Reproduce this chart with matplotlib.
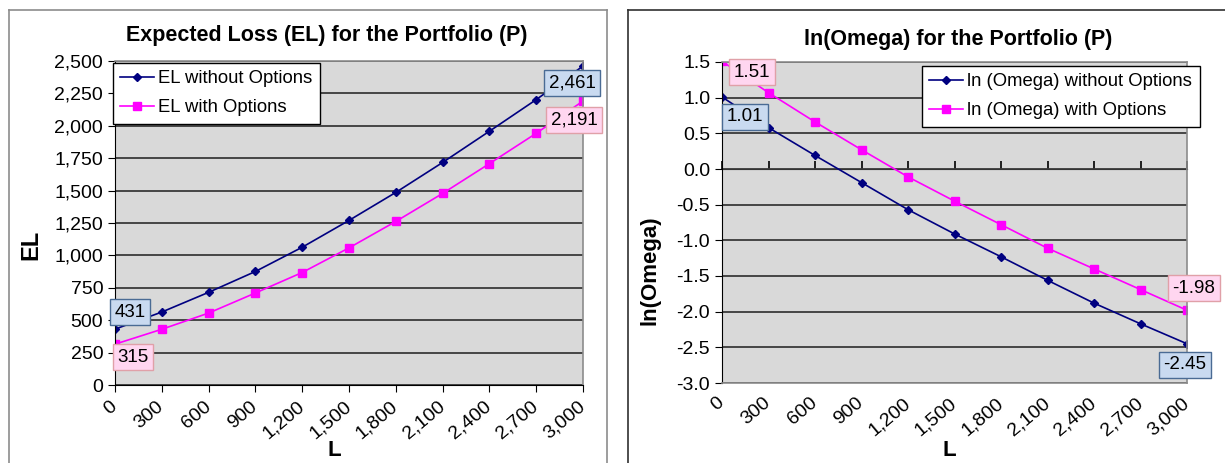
import matplotlib
matplotlib.use("Agg")
import matplotlib.pyplot as plt
from matplotlib.lines import Line2D
from matplotlib.ticker import FuncFormatter, MultipleLocator

plt.rcParams['font.family'] = ['Liberation Sans', 'DejaVu Sans']
plt.rcParams['axes.unicode_minus'] = False

# loss threshold L
L = [0, 300, 600, 900, 1200, 1500, 1800, 2100, 2400, 2700, 3000]
x_ticks = [0, 300, 600, 900, 1200, 1500, 1800, 2100, 2400, 2700, 3000]

# expected loss
el_without = [431, 563, 715, 876, 1063, 1270, 1486, 1717, 1958, 2202, 2461]
el_with = [315, 430, 555, 710, 868, 1058, 1262, 1478, 1708, 1942, 2191]

# ln(Omega)
om_without = [1.01, 0.58, 0.19, -0.19, -0.57, -0.91, -1.23, -1.56, -1.88, -2.17, -2.45]
om_with = [1.51, 1.07, 0.66, 0.27, -0.11, -0.45, -0.78, -1.11, -1.40, -1.69, -1.98]

NAVY = '#000080'
MAGENTA = '#ff00ff'
BG = '#d9d9d9'
GRID = '#3a3a3a'
BLUE_BOX = dict(boxstyle='square,pad=0.25', fc='#c9daf0', ec='#4a6b94', lw=1)
PINK_BOX = dict(boxstyle='square,pad=0.25', fc='#ffd6f0', ec='#e0a0a8', lw=1)
TICK_FS = 14
LABEL_FS = 13.5
LEGEND_FS = 13.3

W, H = 1225, 463
fig = plt.figure(figsize=(W / 100, H / 100), dpi=100)


def px(x, y):
    return x / W, 1 - y / H


def style_axes(ax):
    ax.set_facecolor(BG)
    ax.grid(axis='y', color=GRID, lw=1.3)
    ax.set_axisbelow(True)
    for s in ('top', 'right'):
        ax.spines[s].set_color('#8c8c8c')
        ax.spines[s].set_linewidth(1.2)
    ax.spines['left'].set_color('black')
    ax.tick_params(axis='both', labelsize=TICK_FS, direction='out', length=5, color='black')
    ax.set_xticks(x_ticks)
    ax.set_xlim(0, 3000)
    ax.xaxis.set_major_formatter(FuncFormatter(lambda v, p: f'{int(v):,}'))
    for lab in ax.get_xticklabels():
        lab.set_rotation(40)
        lab.set_ha('right')
        lab.set_va('center')
        lab.set_rotation_mode('anchor')


def frame(x0, x1, y0, color):
    kw = dict(transform=fig.transFigure, color=color, lw=1.2)
    fig.add_artist(Line2D([x0 / W, x0 / W], [0, 1 - y0 / H], **kw))
    fig.add_artist(Line2D([x0 / W, x1 / W], [1 - y0 / H, 1 - y0 / H], **kw))
    if x1 < W:
        fig.add_artist(Line2D([x1 / W, x1 / W], [0, 1 - y0 / H], **kw))


def tag(ax, text, xy, off, box):
    ax.annotate(text, xy, xytext=off, textcoords='offset pixels', ha='center',
                va='center', fontsize=LABEL_FS, bbox=box, annotation_clip=False)


def legend(ax, anchor):
    leg = ax.legend(loc='upper left', bbox_to_anchor=px(*anchor), bbox_transform=fig.transFigure,
                    borderaxespad=0, fontsize=LEGEND_FS, fancybox=False, edgecolor='black',
                    framealpha=1, handlelength=1.8, handletextpad=0.25, labelspacing=0.65,
                    borderpad=0.4)
    leg.get_frame().set_linewidth(1)


frame(9, 607, 10, '#8c8c8c')
frame(628, W, 10, '#303030')

# ---- Expected loss ----
ax1 = fig.add_axes([115 / W, 1 - 385 / H, 468 / W, 324 / H])
ax1.plot(L, el_without, color=NAVY, lw=1.2, marker='D', ms=3.8, label='EL without Options')
ax1.plot(L, el_with, color=MAGENTA, lw=1.2, marker='s', ms=5.2, label='EL with Options')
ax1.set_ylim(0, 2500)
ax1.yaxis.set_major_locator(MultipleLocator(250))
ax1.yaxis.set_major_formatter(FuncFormatter(lambda v, p: f'{int(v):,}'))
style_axes(ax1)
ax1.spines['bottom'].set_color('black')
ax1.tick_params(axis='x', pad=9)

tag(ax1, f'{el_without[0]:,}', (L[0], el_without[0]), (15, 17), BLUE_BOX)
tag(ax1, f'{el_with[0]:,}', (L[0], el_with[0]), (18, -13), PINK_BOX)
tag(ax1, f'{el_without[-1]:,}', (L[-1], el_without[-1]), (-11, -17), BLUE_BOX)
tag(ax1, f'{el_with[-1]:,}', (L[-1], el_with[-1]), (-9, -19), PINK_BOX)
legend(ax1, (113, 63))

fig.text(*px(327, 35), 'Expected Loss (EL) for the Portfolio (P)', ha='center', va='center',
         fontsize=15.5, fontweight='bold')
fig.text(*px(31, 245), 'EL', rotation=90, ha='center', va='center', fontsize=17,
         fontweight='bold')
fig.text(*px(334, 451), 'L', ha='center', va='center', fontsize=16, fontweight='bold')

# ---- ln(Omega) ----
ax2 = fig.add_axes([722 / W, 1 - 383 / H, 465 / W, 321 / H])
ax2.plot(L, om_without, color=NAVY, lw=1.2, marker='D', ms=3.8,
         label='ln (Omega) without Options')
ax2.plot(L, om_with, color=MAGENTA, lw=1.2, marker='s', ms=5.2, label='ln (Omega) with Options')
ax2.set_ylim(-3.0, 1.5)
ax2.yaxis.set_major_locator(MultipleLocator(0.5))
ax2.yaxis.set_major_formatter(FuncFormatter(lambda v, p: f'{v:.1f}'))
style_axes(ax2)
ax2.spines['bottom'].set_color('#8c8c8c')
ax2.spines['bottom'].set_linewidth(1.2)
ax2.tick_params(axis='x', length=0, pad=13)

# category axis crosses at zero
y0, y1 = ax2.get_ylim()
zero_ax = ax2.secondary_xaxis((0 - y0) / (y1 - y0))
zero_ax.set_xticks(x_ticks)
zero_ax.set_xticklabels([])
zero_ax.tick_params(direction='out', length=6, width=1.2, color='black')
zero_ax.spines['bottom'].set_linewidth(2)
zero_ax.spines['bottom'].set_color('black')

tag(ax2, f'{om_with[0]:.2f}', (L[0], om_with[0]), (30, -11), PINK_BOX)
tag(ax2, f'{om_without[0]:.2f}', (L[0], om_without[0]), (23, -20), BLUE_BOX)
tag(ax2, f'{om_with[-1]:.2f}', (L[-1], om_with[-1]), (7, 22), PINK_BOX)
tag(ax2, f'{om_without[-1]:.2f}', (L[-1], om_without[-1]), (-2, -21), BLUE_BOX)
legend(ax2, (922, 66))

fig.text(*px(958, 40), 'ln(Omega) for the Portfolio (P)', ha='center', va='center',
         fontsize=15.5, fontweight='bold')
fig.text(*px(650, 270), 'ln(Omega)', rotation=90, ha='center', va='center', fontsize=16,
         fontweight='bold')
fig.text(*px(949, 451), 'L', ha='center', va='center', fontsize=16, fontweight='bold')

fig.savefig('out.png', dpi=100)
